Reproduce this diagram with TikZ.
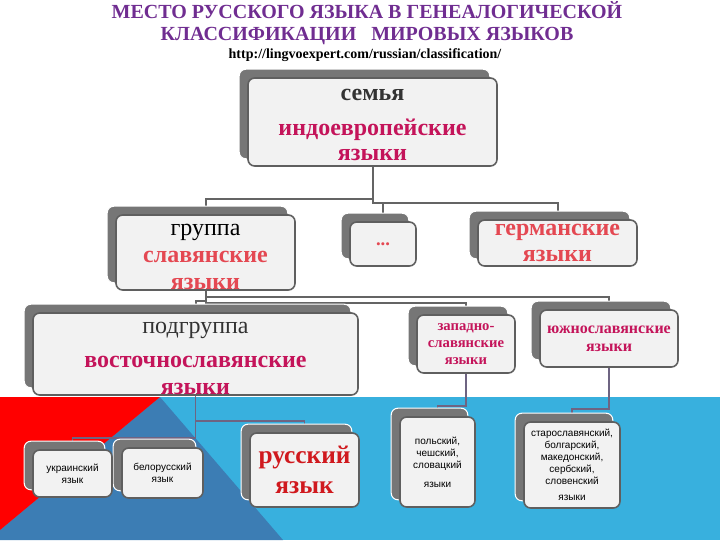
\documentclass[tikz,border=0pt]{standalone}
\usepackage{fontspec}
\setmainfont{Liberation Serif}
\newfontfamily\sansfont{Liberation Sans}
\usetikzlibrary{calc}
\pgfdeclarelayer{back}
\pgfdeclarelayer{shade}
\pgfsetlayers{back,shade,main}

\definecolor{titlecol}{RGB}{112,45,145}
\definecolor{headcol}{RGB}{51,51,51}
\definecolor{crimson}{RGB}{196,20,90}
\definecolor{lightred}{RGB}{228,72,82}
\definecolor{rusred}{RGB}{208,25,30}
\definecolor{boxfill}{RGB}{242,242,242}
\definecolor{boxedge}{RGB}{95,95,95}
\definecolor{shadowcol}{RGB}{118,118,118}
\definecolor{linecol}{RGB}{100,100,100}
\definecolor{lowline}{RGB}{110,100,130}
\definecolor{skyblue}{RGB}{56,176,222}
\definecolor{steelbg}{RGB}{60,125,180}
\definecolor{redbg}{RGB}{255,0,0}

\begin{document}
\begin{tikzpicture}[x=0.75pt,y=0.75pt,yscale=-1,xscale=1,
  box/.style={draw=boxedge,fill=boxfill,line width=1.2pt,rounded corners=5pt,align=center,inner sep=0pt,text=headcol},
  wh/.style 2 args={minimum width=#1*0.75pt,minimum height=#2*0.75pt},
  big/.style={font=\bfseries\fontsize{18}{20}\selectfont},
  small/.style={font=\sansfont\fontsize{7.5}{9}\selectfont,text=black},
  link/.style={draw=linecol,line width=1.5pt},
  lowlink/.style={draw=lowline,line width=1.2pt}]
\useasboundingbox (0,0) rectangle (720,540);

% Title
\node[align=center,text=titlecol,font=\bfseries\fontsize{15}{17}\selectfont] (title) at (367,23) {МЕСТО РУССКОГО ЯЗЫКА В ГЕНЕАЛОГИЧЕСКОЙ\\КЛАССИФИКАЦИИ\hspace{0.5em} МИРОВЫХ ЯЗЫКОВ};
\node[font=\bfseries\fontsize{10.5}{12}\selectfont] (url) at (365,55) {http://lingvoexpert.com/russian/classification/};

% family
\node[box,wh={249}{88},text=crimson,font=\bfseries\fontsize{18}{19}\selectfont] (fam) at (372.5,122) {\rule{0pt}{13pt}\textcolor{headcol}{семья}\\[7pt]индоевропейские\\языки};

% groups
\node[box,wh={179}{75},big,text=lightred] (grp) at (205.5,252.5) {\rule{0pt}{15pt}\textcolor{black}{\mdseries группа}\\славянские\\языки};
\node[box,wh={66}{44},text=lightred,font=\bfseries\fontsize{14}{16}\selectfont] (dots) at (383,244) {...};
\node[box,wh={159}{46},big,text=lightred] (germ) at (557.5,243) {германские\\языки};

% subgroups
\node[box,wh={325}{82},big,text=crimson] (sub) at (195.5,354) {\rule{0pt}{15pt}\textcolor{headcol}{\mdseries подгруппа}\\[6pt]восточнославянские\\языки};
\node[box,wh={98}{58},text=crimson,font=\bfseries\fontsize{11}{13}\selectfont] (west) at (466,344) {западно-\\славянские\\языки};
\node[box,wh={138}{57},text=crimson,font=\bfseries\fontsize{12}{13.5}\selectfont] (south) at (609,338.5) {южнославянские\\языки};

% languages
\node[box,wh={79}{47},small] (ukr) at (72.5,473.5) {украинский\\язык};
\node[box,wh={81}{50},small] (bel) at (162.5,473) {белорусский\\язык};
\node[box,wh={109}{74},text=rusred,font=\bfseries\fontsize{19}{22}\selectfont] (rus) at (304.5,470) {русский\\язык};
\node[box,wh={75}{90},small] (pol) at (437.5,462) {польский,\\чешский,\\словацкий\\[5pt]языки};
\node[box,wh={96}{86},small] (old) at (572,465) {старославянский,\\болгарский,\\македонский,\\сербский,\\словенский\\[3pt]языки};

% background and connectors
\begin{pgfonlayer}{back}
\fill[white] (0,0) rectangle (720,540);
\fill[skyblue] (0,397) rectangle (720,540);
\fill[steelbg] (160,397) -- (283,540) -- (0,540) -- (0,530) -- cycle;
\fill[redbg] (0,397) -- (160,397) -- (0,530) -- cycle;

\draw[link] (fam.south) -- ++(0,32) -| (grp.north);
\draw[link] (fam.south) -- ++(0,36) -| (dots.north);
\draw[link] (fam.south) -- ++(0,36) -| (germ.north);

\draw[link] (grp.south) -- ++(0,6) -| (south.north);
\draw[link] (grp.south) -- ++(0,12) -| (west.north);
\draw[link] (grp.south) -- ++(0,10) -| (sub.north);

\draw[lowlink] (sub.south) -- ++(0,25) -| (rus.north);
\draw[lowlink] (sub.south) -- ++(0,42) -| (ukr.north);
\draw[lowlink] (sub.south) -- ++(0,42) -| (bel.north);
\draw[lowlink] (west.south) -- ++(0,32) -| (pol.north);
\draw[lowlink] (south.south) -- ++(0,41) -| (old.north);
\end{pgfonlayer}

% shadows
\begin{pgfonlayer}{shade}
\foreach \b in {fam,grp,dots,germ,sub,west,south,ukr,bel,rus,pol,old}
  \filldraw[fill=shadowcol,draw=white,line width=0.8pt,rounded corners=5pt] ([shift={(-8,-8)}]\b.north west) rectangle ([shift={(-8,-8)}]\b.south east);
\end{pgfonlayer}

\end{tikzpicture}
\end{document}
